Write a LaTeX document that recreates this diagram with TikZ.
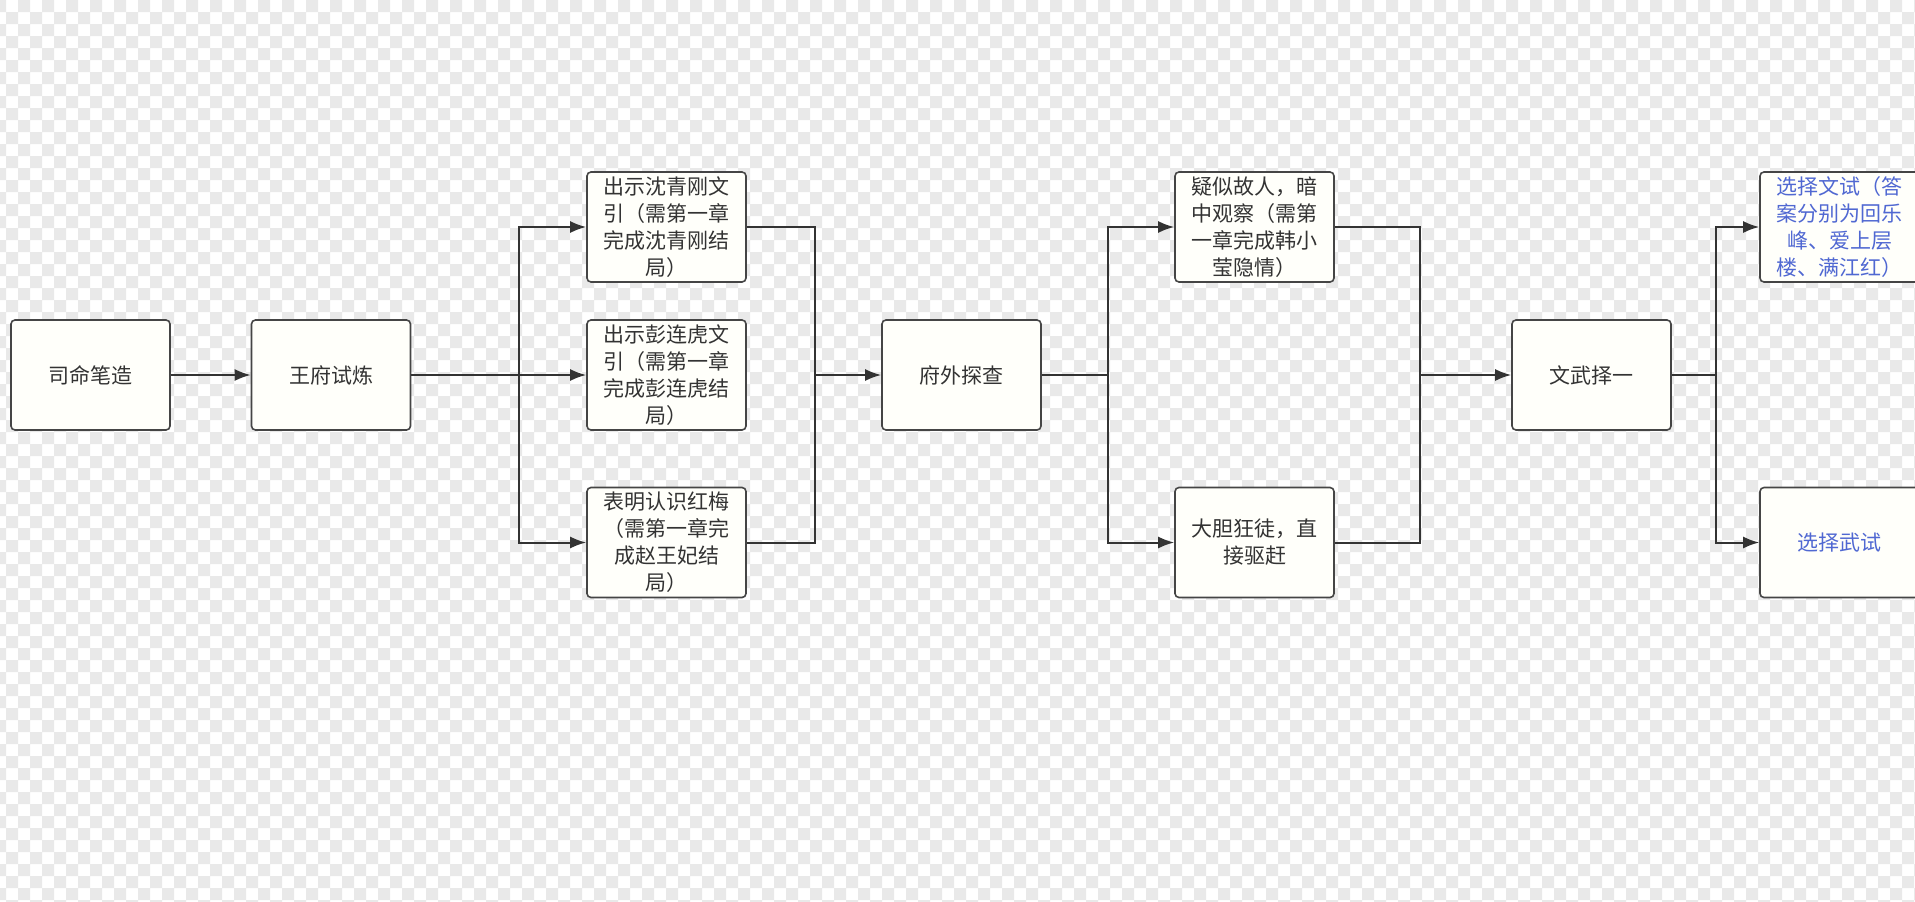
\documentclass[tikz,border=0pt]{standalone}
\usepackage{fontspec}
\setmainfont{Noto Sans CJK SC}
\usetikzlibrary{arrows.meta}
\definecolor{boxline}{HTML}{454545}
\definecolor{boxfill}{HTML}{FFFFFA}
\definecolor{txtgray}{HTML}{333333}
\definecolor{txtblue}{HTML}{5068D2}
\definecolor{checker}{HTML}{E9E9E9}
\tikzset{
  stepbox/.style={draw=boxline, fill=boxfill, rounded corners=4pt, line width=1.6pt,
    minimum width=159pt, minimum height=110pt, inner sep=0pt, align=center,
    text=txtgray, font=\fontsize{21}{27}\selectfont},
  bluebox/.style={stepbox, text=txtblue},
  arr/.style={draw=txtgray, line width=2pt, -{Latex[length=16pt, width=12pt]}},
  lnk/.style={draw=txtgray, line width=2pt}
}
\begin{document}
\begin{tikzpicture}[x=1pt, y=-1pt]
\useasboundingbox (0,0) rectangle (1915,902);

% background (checkerboard)
\begin{scope}
\clip (0,0) rectangle (1915,902);
\fill[white] (0,0) rectangle (1915,902);
\fill[checker] \foreach \i in {-6,18,...,1915} {\foreach \j in {0,24,...,902}
  {(\i,\j) rectangle ++(12,12) (\i+12,\j+12) rectangle ++(12,12)}};
\end{scope}

% main line
\node[stepbox] (siming) at (90.5, 375) {司命笔造};
\node[stepbox] (wangfu) at (331, 375) {王府试炼};
\node[stepbox] (fuwai) at (961.5, 375) {府外探查};
\node[stepbox] (wenwu) at (1591.5, 375) {文武择一};

% first choice
\node[stepbox] (shen) at (666.5, 227) {出示沈青刚文\\引（需第一章\\完成沈青刚结\\局）};
\node[stepbox] (peng) at (666.5, 375) {出示彭连虎文\\引（需第一章\\完成彭连虎结\\局）};
\node[stepbox] (hongmei) at (666.5, 542.5) {表明认识红梅\\（需第一章完\\成赵王妃结\\局）};

% second choice
\node[stepbox] (guren) at (1254.5, 227) {疑似故人，暗\\中观察（需第\\一章完成韩小\\莹隐情）};
\node[stepbox] (dadan) at (1254.5, 542.5) {大胆狂徒，直\\接驱赶};

% third choice
\node[bluebox] (wenshi) at (1839.5, 227) {选择文试（答\\案分别为回乐\\峰、爱上层\\楼、满江红）};
\node[bluebox] (wushi) at (1839.5, 542.5) {选择武试};

% branch and merge points
\coordinate (b1) at (519, 375);
\coordinate (m1) at (815, 375);
\coordinate (b2) at (1108, 375);
\coordinate (m2) at (1420, 375);
\coordinate (b3) at (1716, 375);

\draw[arr] (siming) -- (wangfu);

\draw[lnk] (wangfu) -- (b1);
\draw[arr] (b1) |- (shen);
\draw[arr] (b1) -- (peng);
\draw[arr] (b1) |- (hongmei);

\draw[lnk] (shen) -| (m1);
\draw[lnk] (hongmei) -| (m1);
\draw[arr] (m1) -- (fuwai);

\draw[lnk] (fuwai) -- (b2);
\draw[arr] (b2) |- (guren);
\draw[arr] (b2) |- (dadan);

\draw[lnk] (guren) -| (m2);
\draw[lnk] (dadan) -| (m2);
\draw[arr] (m2) -- (wenwu);

\draw[lnk] (wenwu) -- (b3);
\draw[arr] (b3) |- (wenshi);
\draw[arr] (b3) |- (wushi);

\end{tikzpicture}
\end{document}
